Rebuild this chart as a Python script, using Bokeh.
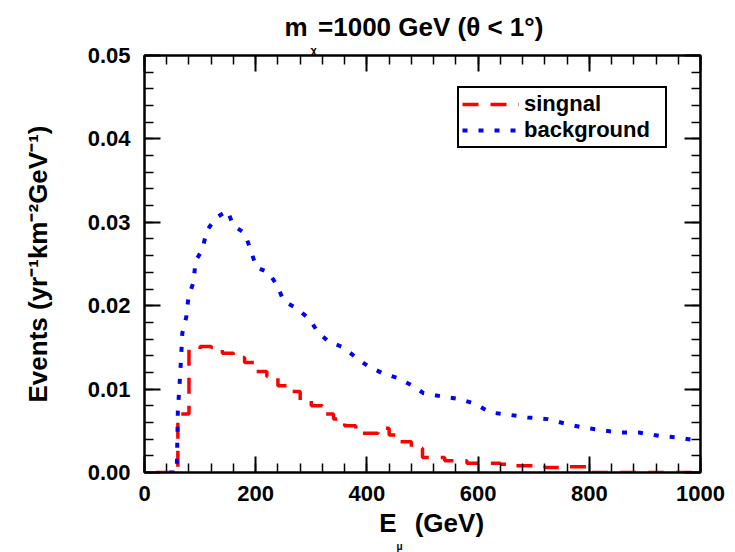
from bokeh.plotting import figure
from bokeh.models import (Range1d, LinearAxis, Title, Legend, LegendItem,
                          FixedTicker, PrintfTickFormatter)
from bokeh.embed import file_html
from bokeh.resources import INLINE

# ---- data ----
# signal: step histogram, left bin edges (GeV) and values
signal_e = [20, 40, 60, 80, 100, 120, 140, 160, 180, 200, 220, 240, 260, 280,
            300, 320, 340, 360, 380, 400, 420, 440, 460, 480, 500, 520, 540,
            560, 580, 600, 620, 640, 660, 680, 700, 720, 740, 760, 780, 800, 1000]
signal_v = [0.0, 0.0, 0.0070, 0.0148, 0.0151, 0.0150, 0.0143, 0.0138, 0.0132,
            0.0121, 0.0115, 0.0104, 0.0097, 0.0086, 0.0080, 0.0070, 0.0064,
            0.0056, 0.0047, 0.0047, 0.0053, 0.0045, 0.0037, 0.0029, 0.0018,
            0.0018, 0.0014, 0.0014, 0.0011, 0.0011, 0.0011, 0.0010, 0.0008,
            0.0008, 0.0007, 0.0006, 0.0006, 0.0007, 0.0007, 0.0, 0.0]

# background
background_e = [45, 58, 60, 64, 66, 68, 75, 79, 88, 92, 104, 112, 128, 149, 160,
                180, 191, 201, 223, 239, 250, 273, 297, 311, 331, 358, 380, 401,
                428, 457, 482, 502, 536, 568, 595, 622, 658, 689, 725, 754, 788,
                820, 853, 889, 925, 959, 995, 1000]
background_v = [0.0, 0.0, 0.0074, 0.0116, 0.0140, 0.0167, 0.0186, 0.0210,
                0.0228, 0.0254, 0.0267, 0.0290, 0.0305, 0.0314, 0.0296, 0.0287,
                0.0267, 0.0246, 0.0240, 0.0224, 0.0206, 0.0197, 0.0184, 0.0169,
                0.0157, 0.0150, 0.0138, 0.0128, 0.0119, 0.0113, 0.0104, 0.0095,
                0.0091, 0.0088, 0.0082, 0.0072, 0.0069, 0.0066, 0.0064, 0.0059,
                0.0054, 0.0051, 0.0048, 0.0048, 0.0044, 0.0042, 0.0038, 0.0038]

x_major = [0, 200, 400, 600, 800, 1000]
x_minor = list(range(0, 1001, 40))
y_major = [0.0, 0.01, 0.02, 0.03, 0.04, 0.05]
y_minor = [i * 0.002 for i in range(26)]

FONT = "Liberation Sans"

p = figure(frame_width=556, frame_height=417,
           x_range=Range1d(0, 1000), y_range=Range1d(0, 0.05),
           output_backend="svg", toolbar_location=None,
           min_border_left=144, min_border_right=30,
           min_border_top=55, min_border_bottom=72)
p.xgrid.visible = False
p.ygrid.visible = False
p.outline_line_color = "black"
p.outline_line_width = 2
p.outline_line_alpha = 1
p.background_fill_color = "white"
p.border_fill_color = "white"

# title: m_chi = 1000 GeV (theta < 1 deg)
p.title.text = "m\u2009\u2009=1000 GeV (\u03b8 < 1\u00b0)"
p.title.align = "left"
p.title.offset = 140
p.title.text_font = FONT
p.title.text_font_style = "bold"
p.title.text_font_size = "26px"
p.title.text_color = "black"
p.title.standoff = 0

xt = FixedTicker(ticks=x_major, minor_ticks=x_minor)
yt = FixedTicker(ticks=y_major, minor_ticks=y_minor)


def style(ax, show_labels):
    ax.axis_line_color = "black"
    ax.axis_line_width = 2
    ax.major_tick_in = 16
    ax.major_tick_out = 0
    ax.minor_tick_in = 9
    ax.minor_tick_out = 0
    ax.major_tick_line_width = 2
    ax.minor_tick_line_width = 1.5
    ax.major_tick_line_color = "black"
    ax.minor_tick_line_color = "black"
    ax.major_label_text_font = FONT
    ax.major_label_text_font_style = "bold"
    ax.major_label_text_font_size = "22px"
    ax.major_label_text_color = "black" if show_labels else None


xa = p.xaxis[0]
xa.ticker = xt
style(xa, True)
xa.major_label_standoff = 13
xa.axis_label = "\u2002\u2009E\u2002\u2009(GeV)"
xa.axis_label_text_font = FONT
xa.axis_label_text_font_style = "bold"
xa.axis_label_text_font_size = "26px"
xa.axis_label_text_color = "black"
xa.axis_label_standoff = 4

ya = p.yaxis[0]
ya.ticker = yt
ya.formatter = PrintfTickFormatter(format="%.2f")
style(ya, True)
ya.major_label_standoff = 14
ya.axis_label = "Events (yr\u207b\u00b9km\u207b\u00b2GeV\u207b\u00b9)"
ya.axis_label_text_font = FONT
ya.axis_label_text_font_style = "bold"
ya.axis_label_text_font_size = "26px"
ya.axis_label_text_color = "black"
ya.axis_label_standoff = 32

top = LinearAxis(ticker=xt, major_label_standoff=0)
style(top, False)
top.major_label_text_font_size = "1px"
p.add_layout(top, "above")
right = LinearAxis(ticker=yt, major_label_standoff=0)
style(right, False)
right.major_label_text_font_size = "1px"
p.add_layout(right, "right")

# subscripts as small titles next to the main texts
chi = Title(text="\u03c7", align="left", offset=166, standoff=0,
            text_font=FONT, text_font_style="bold", text_font_size="11px",
            text_color="black")
p.add_layout(chi, "above")
mu = Title(text="\u03bc", align="left", offset=252, standoff=0,
           vertical_align="top",
           text_font=FONT, text_font_style="bold", text_font_size="10px",
           text_color="black")
p.add_layout(mu, "below")

r_sig = p.step(signal_e, signal_v, mode="after", line_color="#ff0000",
               line_width=3.5, line_dash="16 12")
r_bg = p.line(background_e, background_v, line_color="#0000ff",
              line_width=4, line_dash="5 11")

legend = Legend(items=[LegendItem(label="singnal", renderers=[r_sig]),
                       LegendItem(label="background", renderers=[r_bg])],
                location=(313, 324))
legend.label_text_font = FONT
legend.label_text_font_style = "bold"
legend.label_text_font_size = "22px"
legend.label_text_color = "black"
legend.glyph_width = 57
legend.glyph_height = 22
legend.label_height = 22
legend.label_width = 138
legend.label_standoff = 5
legend.padding = 3
legend.spacing = 0
legend.margin = 0
legend.border_line_color = "black"
legend.border_line_width = 2
legend.border_line_alpha = 1
legend.background_fill_color = "white"
legend.background_fill_alpha = 1
p.add_layout(legend)

open("out.html", "w").write(file_html(p, INLINE))
